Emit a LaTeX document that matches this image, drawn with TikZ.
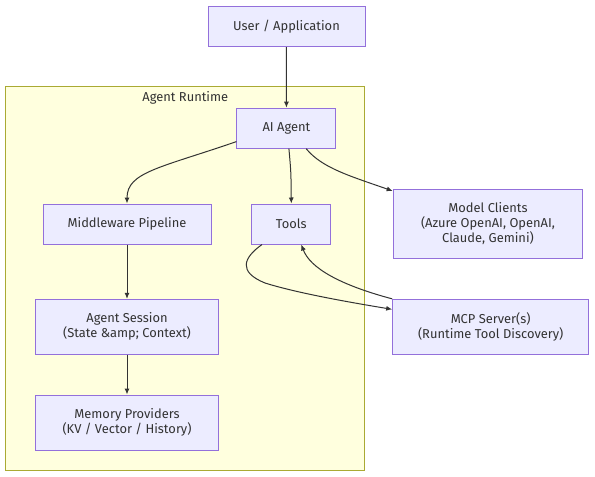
\documentclass[tikz,border=0pt]{standalone}
\usepackage{fontspec}
\setmainfont{Fira Sans}
\usetikzlibrary{arrows.meta}
\definecolor{NodeFill}{HTML}{ECECFF}
\definecolor{NodeLine}{HTML}{9370DB}
\definecolor{RtFill}{HTML}{FFFFDE}
\definecolor{RtLine}{HTML}{AAAA33}
\definecolor{Edge}{HTML}{333333}

\begin{document}
\begin{tikzpicture}[
  x=1pt, y=-1pt,
  box/.style={
    align=center,
    font=\fontsize{12.9}{15}\selectfont\color{Edge},
    draw=NodeLine, fill=NodeFill,
    line width=1pt,
    inner sep=2pt,
    minimum height=40pt
  },
  cluster/.style={draw=RtLine, fill=RtFill, line width=1pt, inner sep=0pt},
  arr/.style={-{Latex[length=6pt,width=5pt]}, line width=1pt, draw=Edge}
]
\useasboundingbox (0,0) rectangle (595,477);

% runtime group
\node[cluster, minimum width=358.7pt, minimum height=383.7pt] (rt) at (185.3,278.8) {};
\node[font=\fontsize{12.9}{15}\selectfont\color{Edge}] (rtlabel) at (185.3,97.5) {Agent Runtime};

\node[box, minimum width=157pt] (user) at (286.5,26.5) {User / Application};
\node[box, minimum width=99pt] (ai) at (286.4,128.2) {AI Agent};
\node[box, minimum width=168pt] (mw) at (127,224) {Middleware Pipeline};
\node[box, minimum width=78.7pt] (tools) at (291.3,224) {Tools};
\node[box, minimum width=189.7pt, minimum height=69pt] (mc) at (488,223.8) {Model Clients\\(Azure OpenAI, OpenAI,\\Claude, Gemini)};
\node[box, minimum width=196pt, minimum height=54.7pt] (mcp) at (490.7,326.7) {MCP Server(s)\\(Runtime Tool Discovery)};
\node[box, minimum width=183.7pt, minimum height=54.7pt] (sess) at (127,326.7) {Agent Session\\(State \&amp; Context)};
\node[box, minimum width=183.7pt, minimum height=55pt] (mem) at (127,422.5) {Memory Providers\\(KV / Vector / History)};

\draw[arr] (user) -- (ai);
\draw[arr] (ai.195) .. controls (160,168) and (127,172) .. (mw.north);
\draw[arr] (ai.-83) .. controls (291,172) .. (tools.north);
\draw[arr] (ai.-46) .. controls (322,168) and (350,176) .. (mc.161);
\draw[arr] (tools.215) .. controls (243,258) and (238,272) .. (265,283) .. controls (300,294) and (360,304) .. (mcp.170);
\draw[arr] (mcp.north west) .. controls (340,285) and (310,268) .. (tools.-64);
\draw[arr] (mw) -- (sess);
\draw[arr] (sess) -- (mem);
\end{tikzpicture}
\end{document}
